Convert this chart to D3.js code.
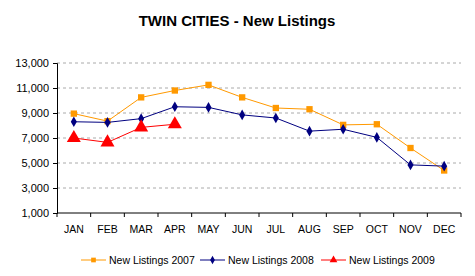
<!DOCTYPE html>
<html>
<head>
<meta charset="utf-8">
<script src="https://cdn.jsdelivr.net/npm/d3@7"></script>
<style>
  body { margin: 0; background: #fff; }
  text { font-family: Arial, "Liberation Sans", sans-serif; }
</style>
</head>
<body>
<script>
const months = ["JAN","FEB","MAR","APR","MAY","JUN","JUL","AUG","SEP","OCT","NOV","DEC"]
const listings2007 = [8950, 8350, 10250, 10800, 11250, 10250, 9400, 9300, 8050, 8100, 6200, 4400]
const listings2008 = [8300, 8250, 8550, 9500, 9450, 8850, 8600, 7550, 7700, 7050, 4850, 4750]
const listings2009 = [7000, 6650, 7850, 8100]
const yTicks = [1000, 3000, 5000, 7000, 9000, 11000, 13000]

const width = 475, height = 276
const margin = { top: 63, right: 14, bottom: 63, left: 57 }

const svg = d3.select("body").append("svg")
  .attr("width", width)
  .attr("height", height)

const x = d3.scaleBand()
  .domain(months)
  .range([margin.left, width - margin.right])

const y = d3.scaleLinear()
  .domain([1000, 13000])
  .range([height - margin.bottom, margin.top])

// title
svg.append("text")
  .attr("x", 237)
  .attr("y", 26)
  .attr("text-anchor", "middle")
  .style("font-size", "15px")
  .style("font-weight", "bold")
  .text("TWIN CITIES - New Listings")

// gridlines
svg.append("g")
  .selectAll("line")
  .data(yTicks.slice(1))
  .enter().append("line")
    .attr("x1", margin.left)
    .attr("x2", width - margin.right)
    .attr("y1", d => y(d))
    .attr("y2", d => y(d))
    .attr("stroke", "#aaa")
    .attr("stroke-dasharray", "3 3")

// y axis
const yAxis = svg.append("g")
  .attr("transform", `translate(${margin.left},0)`)
  .call(d3.axisLeft(y).tickValues(yTicks).tickSize(4).tickPadding(4).tickFormat(d3.format(",")))
yAxis.select(".domain").attr("stroke", "#000")
yAxis.selectAll("text").style("font-size", "11px").attr("fill", "#000")

// x axis, ticks between categories
const xg = svg.append("g")
  .attr("transform", `translate(0,${y(1000)})`)
xg.append("line")
  .attr("x1", margin.left).attr("x2", width - margin.right)
  .attr("stroke", "#000")
xg.selectAll(".tick")
  .data(d3.range(months.length + 1))
  .enter().append("line")
    .attr("x1", i => margin.left + i * x.step())
    .attr("x2", i => margin.left + i * x.step())
    .attr("y1", 0).attr("y2", 4)
    .attr("stroke", "#000")
xg.selectAll("text")
  .data(months)
  .enter().append("text")
    .attr("x", d => x(d) + x.bandwidth() / 2)
    .attr("y", 20)
    .attr("text-anchor", "middle")
    .style("font-size", "10.5px")
    .text(d => d)

const cx = i => x(months[i]) + x.bandwidth() / 2
const line = d3.line().x((d, i) => cx(i)).y(d => y(d))

const series = [
  { name: "New Listings 2007", values: listings2007, color: "#FF9900", symbol: d3.symbolSquare, size: 40, legendSize: 22 },
  { name: "New Listings 2008", values: listings2008, color: "#000080", symbol: d3.symbolDiamond, size: 32, legendSize: 20 },
  { name: "New Listings 2009", values: listings2009, color: "#FF0000", symbol: d3.symbolTriangle, size: 85, legendSize: 26 }
]

series.forEach(s => {
  svg.append("path")
    .datum(s.values)
    .attr("fill", "none")
    .attr("stroke", s.color)
    .attr("stroke-width", 1)
    .attr("d", line)
  svg.append("g")
    .selectAll("path")
    .data(s.values)
    .enter().append("path")
      .attr("transform", (d, i) => `translate(${cx(i)},${y(d)})`)
      .attr("d", d3.symbol().type(s.symbol).size(s.size))
      .attr("fill", s.color)
})

// legend
const legendX = [81, 200, 321]
series.forEach((s, i) => {
  const g = svg.append("g").attr("transform", `translate(${legendX[i]},260)`)
  g.append("line").attr("x1", 0).attr("x2", 25).attr("stroke", s.color)
  g.append("path")
    .attr("transform", "translate(12.5,0)")
    .attr("d", d3.symbol().type(s.symbol).size(s.legendSize))
    .attr("fill", s.color)
  g.append("text")
    .attr("x", 28)
    .attr("y", 4)
    .style("font-size", "10.5px")
    .text(s.name)
})
</script>
</body>
</html>
